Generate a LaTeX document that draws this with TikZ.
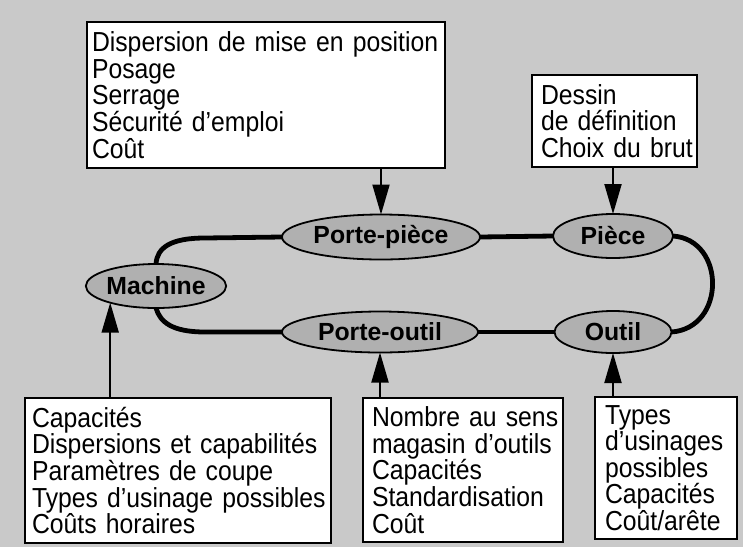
\documentclass[tikz,border=0pt]{standalone}
\usepackage{fontspec}
\setmainfont{Liberation Sans}
\newfontfamily\boxfont[FakeStretch=0.9]{Liberation Sans}
\usetikzlibrary{arrows.meta,shapes.geometric}
\definecolor{bggray}{RGB}{201,201,201}
\definecolor{ellgray}{RGB}{176,176,176}
\newcommand\oneline[1]{\mbox{#1}}
\begin{document}
\begin{tikzpicture}[x=1pt,y=-1pt,
  ell/.style={ellipse, draw, line width=1.8pt, fill=ellgray, inner sep=0pt, outer sep=0pt,
    font=\bfseries\fontsize{24.8}{26}\selectfont},
  infobox/.style={draw, line width=1.6pt, fill=white, align=left, anchor=north west,
    outer sep=0pt, inner ysep=0pt, font=\boxfont\fontsize{27.5}{26.6}\selectfont},
  link/.style={line width=4.8pt},
  feed/.style={line width=2pt, -{Triangle[length=30pt,width=17pt]}}
]
\fill[bggray] (0,0) rectangle (743,547);
\useasboundingbox (0,0) rectangle (743,547);

% ellipses
\node[ell, minimum width=198, minimum height=45] (pp) at (381,237) {Porte-pièce};
\node[ell, minimum width=120, minimum height=44] (pc) at (613,236) {Pièce};
\node[ell, minimum width=132, minimum height=44] (m)  at (156,286) {Machine};
\node[ell, minimum width=196, minimum height=41] (po) at (380,332) {Porte-outil};
\node[ell, minimum width=117, minimum height=42] (ou) at (613,332) {Outil};

% boxes
\node[infobox, inner xsep=5pt, text width=348pt, minimum width=358, minimum height=146] (tl) at (87,22)
  {\oneline{Dispersion de mise en position}\\Posage\\Serrage\\\oneline{Sécurité d’emploi}\\Coût};
\node[infobox, inner xsep=9pt, text width=147pt, minimum width=165, minimum height=92] (tr) at (532,75)
  {Dessin\\\oneline{de définition}\\\oneline{Choix du brut}};
\node[infobox, inner xsep=7pt, text width=292pt, minimum width=306, minimum height=145] (mb) at (25,398)
  {Capacités\\\oneline{Dispersions et capabilités}\\\oneline{Paramètres de coupe}\\\oneline{Types d’usinage possibles}\\\oneline{Coûts horaires}};
\node[infobox, inner xsep=9pt, text width=182pt, minimum width=200, minimum height=144] (pob) at (363,398)
  {\oneline{Nombre au sens}\\\oneline{magasin d’outils}\\Capacités\\Standardisation\\Coût};
\node[infobox, inner xsep=10pt, text width=122pt, minimum width=142, minimum height=142] (oub) at (595,397)
  {Types\\d’usinages\\possibles\\Capacités\\Coût/arête};

% links
\draw[link] (m.north) .. controls (157,248) and (170,238) .. (205,238) -- (pp.west);
\draw[link] (pp.east) -- (pc.west);
\draw[link] (pc.east) .. controls (726,240) and (726,328) .. (ou.east);
\draw[link] (ou.west) -- (po.east);
\draw[link] (m.south) .. controls (160,322) and (172,332) .. (205,332) -- (po.west);

% feed arrows
\draw[feed] (tl.south -| pp.north) -- (pp.north);
\draw[feed] (tr.south -| pc.north) -- (pc.north);
\draw[feed] (mb.north -| m.200) -- (m.200);
\draw[feed] (pob.north -| po.south) -- (po.south);
\draw[feed] (oub.north -| ou.south) -- (ou.south);
\end{tikzpicture}
\end{document}
